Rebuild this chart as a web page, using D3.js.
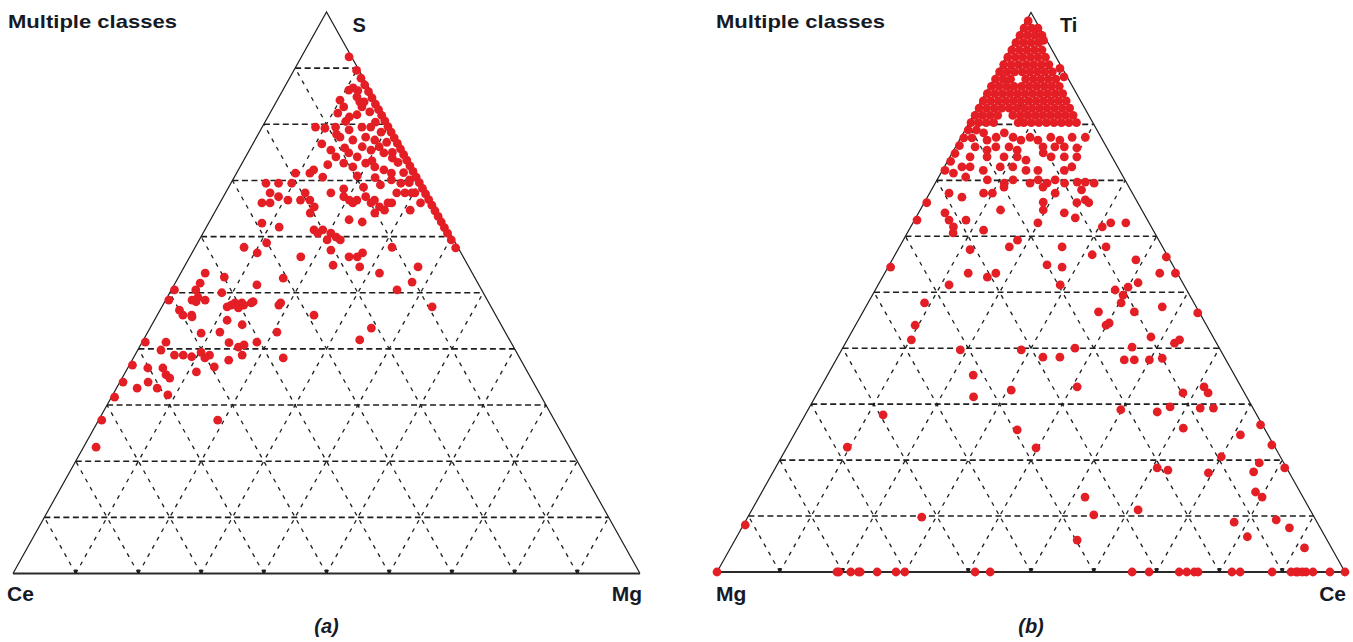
<!DOCTYPE html>
<html><head><meta charset="utf-8">
<script src="https://cdn.jsdelivr.net/npm/d3@7"></script>
<style>
html,body{margin:0;padding:0;background:#fff;}
svg{display:block;}
text{font-family:"Liberation Sans",Arial,Helvetica,sans-serif;fill:#161a26;font-weight:bold;}
</style></head><body>
<svg id="chart" width="1353" height="642"></svg>
<script>
// ---------- DATA ----------
const panelTitles = ["Multiple classes", "Multiple classes"];
const panelCaptions = ["(a)", "(b)"];
// vertex names: [bottom-left, bottom-right, top]
const verticesA = ["Ce", "Mg", "S"];
const verticesB = ["Mg", "Ce", "Ti"];
const gridTicks = [10, 20, 30, 40, 50, 60, 70, 80, 90];

// Panel (a): compositions [S, Mg, Ce] in %
const pointsA = [
  // along the S–Mg edge
  [92.0,7.6,0.4],[89.6,10.0,0.4],[88.2,11.4,0.4],[87.0,12.6,0.4],[85.8,13.8,0.4],[84.7,14.9,0.4],
  [83.6,16.0,0.4],[82.6,17.0,0.4],[81.6,18.0,0.4],[80.6,19.0,0.4],[79.6,20.0,0.4],[78.6,21.0,0.4],
  [77.6,22.0,0.4],[76.6,23.0,0.4],[75.6,24.0,0.4],[74.6,25.0,0.4],[73.6,26.0,0.4],[72.6,27.0,0.4],
  [71.6,28.0,0.4],[70.6,29.0,0.4],[69.6,30.0,0.4],[68.6,31.0,0.4],[67.6,32.0,0.4],[66.6,33.0,0.4],
  [65.6,34.0,0.4],[64.6,35.0,0.4],[63.6,36.0,0.4],[62.6,37.0,0.4],[61.6,38.0,0.4],[60.6,39.0,0.4],
  [59.4,40.2,0.4],[58.0,41.6,0.4],
  [86.0,12.0,2.0],[84.0,14.0,2.0],[82.2,15.8,2.0],[80.4,17.6,2.0],[78.6,19.4,2.0],[76.8,21.2,2.0],
  [75.0,23.0,2.0],[73.2,24.8,2.0],[71.4,26.6,2.0],[69.6,28.4,2.0],[67.8,30.2,2.0],[66.0,32.0,2.0],
  // main upper cluster
  [86.1,10.5,3.4],[86.5,11.0,2.5],[84.9,12.4,2.7],[84.0,13.3,2.7],[84.3,10.0,5.7],[83.1,11.2,5.7],
  [82.0,10.8,7.2],[81.3,13.0,5.7],[83.1,14.1,2.8],[81.7,14.0,4.3],[79.5,8.5,12.0],[79.3,10.1,10.6],
  [79.5,11.7,8.8],[79.0,14.1,6.9],[79.5,15.9,4.6],[79.5,17.3,3.2],[77.7,13.3,9.0],[77.2,15.6,7.2],
  [77.7,17.4,4.9],[77.2,19.1,3.7],[76.0,17.7,6.3],[75.4,19.4,5.2],[76.0,20.4,3.6],[74.9,21.7,3.4],
  [74.9,16.1,9.0],[74.2,17.8,8.0],[75.4,13.0,11.6],[74.2,14.4,11.4],[73.1,16.2,10.7],[72.4,18.0,9.6],
  [73.1,19.7,7.2],[72.4,21.5,6.1],[71.9,23.2,4.9],[71.3,24.7,4.0],[70.1,25.3,4.6],[69.5,27.1,3.4],
  [70.1,28.2,1.7],[67.8,27.3,4.9],[67.8,28.6,3.6],[71.9,12.0,16.1],[70.6,14.1,15.3],[71.3,11.7,17.0],
  [71.3,9.4,19.3],[69.5,9.7,20.8],[69.5,7.6,22.9],[69.5,5.6,24.9],[67.8,7.1,25.1],[67.1,8.8,24.1],
  [66.5,10.6,22.9],[67.8,12.7,19.5],[66.5,12.6,20.9],[66.5,14.1,19.4],[65.3,15.4,19.3],[64.2,15.3,20.5],
  [67.8,16.8,15.4],[67.1,19.2,13.7],[66.5,20.4,13.1],[66.0,21.2,12.8],[66.5,21.6,11.9],[67.1,22.7,10.2],
  [66.5,24.4,9.1],[65.3,25.8,8.9],[64.7,26.9,8.4],[64.2,25.6,10.2],[66.0,24.1,9.9],[66.0,26.8,7.2],
  [66.0,27.4,6.6],[64.7,31.0,4.3],[67.8,29.7,2.5],[66.0,6.7,27.3],[66.0,8.0,26.0],[62.4,8.5,29.1],
  [61.7,11.6,26.7],[61.2,17.4,21.4],[60.6,18.3,21.1],[61.2,18.8,20.0],[60.6,20.4,19.0],[59.9,21.6,18.5],
  [59.4,22.5,18.1],[59.4,20.4,20.2],[63.0,22.1,14.9],[62.6,24.4,13.0],[58.1,7.8,34.1],[57.1,10.4,32.5],
  [58.9,11.0,30.1],[56.4,17.7,25.9],[57.6,21.9,20.5],[56.4,25.4,18.2],[56.4,26.7,16.9],[57.1,27.2,15.7],
  [53.5,31.7,14.8],[58.1,31.4,10.5],[54.6,37.3,8.1],[51.9,37.7,10.4],[54.9,23.6,21.5],[54.6,28.0,17.4],
  [50.5,36.0,13.5],[47.5,43.1,9.4],[43.7,35.3,21.0],[41.6,34.5,23.9],
  [73.5,20.5,6.0],[75.8,15.0,9.2],[78.2,12.5,9.3],[80.5,12.8,6.7],[70.8,19.5,9.7],[68.8,21.5,9.7],
  [69.2,24.0,6.8],[72.8,13.8,13.4],[76.5,11.0,12.5],[74.0,23.5,2.5],[68.5,18.5,13.0],[70.5,22.5,7.0],
  // lower-left cluster
  [53.5,3.9,42.6],[52.8,7.3,39.9],[51.7,4.0,44.3],[50.5,3.9,45.6],[49.2,4.9,45.9],[48.7,4.2,47.1],
  [48.7,6.3,45.0],[50.0,8.3,41.7],[48.2,11.3,40.5],[47.5,10.4,42.1],[48.2,12.4,39.4],[48.4,14.1,37.5],
  [51.4,13.2,35.4],[52.6,16.8,30.6],[48.2,18.6,33.2],[46.0,25.0,29.0],[46.9,3.1,50.0],[46.0,4.1,49.9],
  [46.0,5.5,48.5],[48.7,0.5,50.8],[50.5,0.5,49.0],[45.7,5.7,48.6],[48.4,5.0,46.6],[47.8,10.9,41.3],
  [47.3,12.3,40.4],[47.8,12.9,39.3],[48.2,13.9,37.9],[47.8,18.5,33.7],[45.1,11.6,43.3],[44.3,14.4,41.3],
  [42.8,8.6,48.6],[43.0,11.5,45.5],[43.0,20.6,36.4],[41.2,0.5,58.3],[41.2,3.8,55.0],[39.8,3.7,56.5],
  [38.9,6.3,54.8],[38.9,7.7,53.4],[38.6,9.2,52.2],[39.4,10.3,50.3],[38.9,11.9,49.2],[38.4,11.4,50.2],
  [41.1,13.9,45.0],[40.3,15.8,43.9],[40.7,16.5,42.8],[38.9,17.1,44.0],[41.2,18.3,40.5],[38.0,15.4,46.6],
  [38.4,23.9,37.7],[37.1,0.5,62.4],[36.6,3.2,60.2],[36.6,5.6,57.8],[35.4,6.7,57.9],[34.8,7.6,57.6],
  [35.9,11.3,52.8],[36.8,13.7,49.5],[34.1,0.5,65.4],[33.0,3.3,63.7],[34.1,4.5,61.4],[33.0,6.5,60.5],
  [31.8,8.8,59.4],[31.4,0.5,68.1],[27.3,0.5,72.2],[22.5,2.0,75.5],[27.3,19.0,53.7]
];

// Panel (b): compositions [Ti, Mg, Ce] in %
const pointsB = [
  // dense Ti-rich region
  [98.5,1.2,0.3],
  [97.2,2.5,0.3],[97.2,1.3,1.5],[97.2,0.3,2.5],
  [95.9,3.8,0.3],[95.9,2.6,1.5],[95.9,1.4,2.7],[95.9,0.3,3.8],
  [94.6,5.1,0.3],[94.6,3.9,1.5],[94.6,2.7,2.7],[94.6,1.5,3.9],
  [93.3,6.4,0.3],[93.3,5.2,1.5],[93.3,4.0,2.7],[93.3,2.8,3.9],[93.3,1.6,5.1],
  [92.0,7.7,0.3],[92.0,6.5,1.5],[92.0,5.3,2.7],[92.0,4.1,3.9],[92.0,2.9,5.1],[92.0,1.7,6.3],
  [90.7,9.0,0.3],[90.7,7.8,1.5],[90.7,6.6,2.7],[90.7,5.4,3.9],[90.7,4.2,5.1],[90.7,3.0,6.3],[90.7,1.8,7.5],
  [89.4,10.3,0.3],[89.4,9.1,1.5],[89.4,7.9,2.7],[89.4,6.7,3.9],[89.4,5.5,5.1],[89.4,4.3,6.3],[89.4,3.1,7.5],[89.4,1.9,8.7],
  [88.1,11.6,0.3],[88.1,10.4,1.5],[88.1,9.2,2.7],[88.1,6.8,5.1],[88.1,5.6,6.3],[88.1,4.4,7.5],[88.1,3.2,8.7],[88.1,2.0,9.9],
  [86.8,12.9,0.3],[86.8,11.7,1.5],[86.8,10.5,2.7],[86.8,9.3,3.9],[86.8,8.1,5.1],[86.8,6.9,6.3],[86.8,5.7,7.5],[86.8,4.5,8.7],[86.8,3.3,9.9],[86.8,2.1,11.1],
  [85.5,14.2,0.3],[85.5,13.0,1.5],[85.5,11.8,2.7],[85.5,10.6,3.9],[85.5,9.4,5.1],[85.5,8.2,6.3],[85.5,7.0,7.5],[85.5,5.8,8.7],[85.5,4.6,9.9],[85.5,3.4,11.1],[85.5,2.2,12.3],
  [84.2,15.5,0.3],[84.2,14.3,1.5],[84.2,13.1,2.7],[84.2,11.9,3.9],[84.2,10.7,5.1],[84.2,9.5,6.3],[84.2,8.3,7.5],[84.2,7.1,8.7],[84.2,5.9,9.9],[84.2,4.7,11.1],[84.2,3.5,12.3],[84.2,2.3,13.5],
  [82.9,16.8,0.3],[82.9,15.6,1.5],[82.9,14.4,2.7],[82.9,13.2,3.9],[82.9,12.0,5.1],[82.9,10.8,6.3],[82.9,9.6,7.5],[82.9,8.4,8.7],[82.9,7.2,9.9],[82.9,6.0,11.1],[82.9,4.8,12.3],[82.9,3.6,13.5],[82.9,2.4,14.7],
  [81.6,18.1,0.3],[81.6,16.9,1.5],[81.6,15.7,2.7],[81.6,14.5,3.9],[81.6,12.1,6.3],[81.6,10.9,7.5],[81.6,9.7,8.7],[81.6,8.5,9.9],[81.6,7.3,11.1],[81.6,6.1,12.3],[81.6,4.9,13.5],[81.6,3.7,14.7],[81.6,2.5,15.9],
  [80.3,19.4,0.3],[80.3,18.2,1.5],[80.3,17.0,2.7],[80.3,15.8,3.9],[80.3,11.9,7.8],[80.3,11.0,8.7],[80.3,9.8,9.9],[80.3,8.6,11.1],[80.3,7.4,12.3],[80.3,6.2,13.5],[80.3,5.0,14.7],[80.3,3.8,15.9],[80.3,2.6,17.1],
  [79.0,20.5,0.5],[79.0,19.2,1.8],[77.6,21.9,0.5],[77.6,20.6,1.8],[76.2,23.3,0.5],[74.8,24.7,0.5],[73.4,26.1,0.5],
  // Ti–Ce edge
  [95.0,0.5,4.5],[90.0,0.4,9.6],[88.5,0.5,11.0],
  // scattered
  [78.5,18.3,3.2],[77.2,18.4,4.4],[77.7,16.7,5.6],[78.5,15.0,6.5],[77.7,14.0,8.3],[77.2,13.0,9.8],
  [77.7,11.3,11.0],[77.2,10.3,12.5],[77.7,8.0,14.3],[77.2,6.8,16.0],[77.7,4.6,17.7],[77.7,2.5,19.8],
  [76.0,20.9,3.1],[75.4,19.3,5.3],[76.0,17.6,6.4],[76.0,15.5,8.5],[75.4,14.5,10.1],[76.0,10.1,13.9],
  [76.0,8.2,15.8],[76.0,6.7,17.3],[75.8,4.8,19.4],[74.2,22.6,3.2],[74.2,19.9,5.9],[74.2,17.2,8.6],
  [74.2,15.1,10.7],[73.6,14.0,12.4],[74.9,10.6,14.5],[74.2,9.7,16.1],[74.2,7.6,18.2],[74.2,5.6,20.2],
  [72.4,24.8,2.8],[72.4,23.5,4.1],[71.8,21.7,6.5],[72.4,18.7,8.9],[72.4,16.7,10.9],[71.8,14.9,13.3],
  [71.8,13.0,15.2],[71.8,8.8,19.4],[72.4,7.3,20.3],[71.3,26.7,2.0],[70.6,25.1,4.3],[70.1,21.9,8.0],
  [69.5,19.5,11.0],[70.1,17.8,12.1],[69.5,15.4,15.1],[70.1,13.8,16.1],[69.5,12.7,17.8],[70.1,11.1,18.8],
  [69.5,9.9,20.6],[69.7,7.8,22.5],[69.7,6.5,23.8],[69.5,5.2,25.3],[71.8,27.8,0.4],[67.7,29.2,3.1],
  [67.0,27.5,5.5],[67.7,23.7,8.6],[67.7,22.3,10.0],[68.8,19.9,11.3],[68.8,13.7,17.5],[67.7,12.3,20.0],
  [68.3,7.8,23.9],[66.5,8.1,25.4],[66.0,7.8,26.2],[66.0,33.6,0.4],[64.2,31.6,4.2],[62.9,31.6,5.5],
  [61.7,31.5,6.8],[62.9,28.9,8.2],[61.1,27.0,11.9],[64.7,22.5,12.8],[66.1,15.0,18.9],[64.7,15.7,19.6],
  [62.4,17.7,19.9],[64.2,12.6,23.2],[63.3,11.3,25.4],[66.0,9.7,24.3],[61.7,7.8,30.5],[62.4,6.1,31.5],
  [62.4,3.7,33.9],[62.9,36.7,0.4],[60.6,32.1,7.3],[59.3,22.5,18.2],[58.1,24.4,17.5],[57.6,30.9,11.5],
  [58.1,16.0,25.9],[54.9,20.0,25.1],[54.5,17.8,27.7],[56.7,11.9,31.4],[58.1,9.0,32.9],[55.8,5.4,38.8],
  [56.3,0.3,43.4],[53.4,2.8,43.8],[53.4,0.3,46.3],[54.5,45.1,0.4],[53.4,33.3,13.3],[52.7,30.6,16.7],
  [53.4,28.9,17.7],[51.3,37.4,11.3],[51.3,19.7,29.0],[50.4,11.4,38.2],[50.9,9.1,40.0],[49.5,10.6,39.9],
  [51.7,7.1,41.2],[48.1,42.9,9.0],[44.1,46.4,9.5],[46.5,16.0,37.5],[48.1,11.6,40.3],[46.5,10.3,43.2],
  [46.3,0.3,53.4],[44.5,15.3,40.2],
  [41.5,48.3,10.2],[39.7,41.4,18.9],[35.2,41.6,23.2],[31.3,43.5,25.2],[32.5,36.9,30.6],[39.7,31.7,28.6],
  [38.4,28.9,32.7],[38.4,26.2,35.4],[40.0,23.0,37.0],[33.1,26.1,40.8],[44.1,16.0,39.9],[40.2,13.8,46.0],
  [37.9,16.2,45.9],[37.9,14.6,47.5],[37.9,12.2,49.9],[42.0,9.9,48.1],[47.4,5.4,47.2],[38.2,10.0,51.8],
  [40.9,6.7,52.4],[41.5,5.6,52.9],[33.1,5.9,61.0],[32.0,5.8,62.2],[32.0,9.8,58.2],[29.3,8.4,62.3],
  [29.3,6.3,64.4],[29.5,13.1,57.4],[28.6,15.6,55.8],[29.0,21.2,49.8],[25.7,12.9,61.4],[28.1,59.5,12.4],
  [25.4,39.5,35.1],[22.2,38.1,39.7],[22.3,68.1,9.6],[24.5,4.4,71.1],[26.3,0.3,73.4],[22.7,0.3,77.0],
  [20.6,9.4,70.0],[18.6,20.6,60.8],[18.2,19.1,62.7],[17.7,12.9,69.4],[19.5,3.9,76.6],[17.9,5.6,76.5],
  [18.6,0.3,81.1],[14.3,7.1,78.6],[13.4,6.5,80.1],[13.4,34.7,51.9],[10.2,34.9,54.9],[11.1,27.4,61.5],
  [9.8,62.5,27.7],[8.9,13.2,77.9],[9.3,6.3,84.4],[7.9,4.9,87.2],[6.3,12.4,81.3],[4.3,4.3,91.4],
  [5.7,39.8,54.5],[8.4,91.3,0.3],
  // on the Mg–Ce base
  [0,100,0],[0,80.9,19.1],[0,80.6,19.4],[0,78.7,21.3],[0,77.5,22.5],[0,77.2,22.8],[0,74.5,25.5],
  [0,71.5,28.5],[0,70.1,29.9],[0,58.9,41.1],[0,56.5,43.5],[0,33.9,66.1],[0,31.2,68.8],[0,26.4,73.6],
  [0,25.2,74.8],[0,24.0,76.0],[0,23.4,76.6],[0,18.0,82.0],[0,16.7,83.3],[0,11.6,88.4],[0,8.6,91.4],
  [0,7.8,92.2],[0,7.5,92.5],[0,6.8,93.2],[0,6.2,93.8],[0,5.1,94.9],[0,2.4,97.6],[0,0,100]
];

// ---------- DRAWING ----------
const svg = d3.select("#chart");
const RED = "#e41e25";
const INK = "#1e1e1e";

function drawPanel(cfg) {
  const g = svg.append("g");
  const xs = d3.scaleLinear().domain([0, 100]).range([cfg.x0, cfg.x1]);
  const ys = d3.scaleLinear().domain([0, 100]).range([cfg.yBase, cfg.yApex]);
  // top = top-vertex %, right = bottom-right-vertex %
  const proj = (top, right) => [xs(right + top / 2), ys(top)];
  const line = d3.line();
  const ti = cfg.topIndex, ri = cfg.rightIndex;

  const grid = g.append("g").attr("fill", "none").attr("stroke", INK);
  grid.selectAll("path.h").data(gridTicks).join("path")
    .attr("class", "h")
    .attr("d", k => line([proj(k, 0), proj(k, 100 - k)]))
    .attr("stroke-width", 1.6).attr("stroke-dasharray", "6,3.5");
  grid.selectAll("path.r").data(gridTicks).join("path")
    .attr("class", "r")
    .attr("d", k => line([proj(0, k), proj(100 - k, k)]))
    .attr("stroke-width", 1.3).attr("stroke-dasharray", "4,5.5");
  grid.selectAll("path.l").data(gridTicks).join("path")
    .attr("class", "l")
    .attr("d", k => line([proj(0, 100 - k), proj(100 - k, 0)]))
    .attr("stroke-width", 1.3).attr("stroke-dasharray", "4,5.5");

  g.append("path")
    .attr("d", line([proj(0, 0), proj(100, 0), proj(0, 100)]))
    .attr("fill", "none").attr("stroke", INK).attr("stroke-width", 1.2);
  g.append("path")
    .attr("d", line([proj(0, 0), proj(0, 100)]))
    .attr("fill", "none").attr("stroke", "#2a2a2a").attr("stroke-width", 2.2);
  g.selectAll("rect.tick").data(gridTicks).join("rect")
    .attr("class", "tick")
    .attr("x", k => proj(0, k)[0] - 1.5).attr("y", ys(0) - 4)
    .attr("width", 3).attr("height", 4).attr("fill", INK);

  g.append("g").selectAll("circle").data(cfg.points).join("circle")
    .attr("cx", d => proj(d[ti], d[ri])[0])
    .attr("cy", d => proj(d[ti], d[ri])[1])
    .attr("r", 4.4).attr("fill", RED);

  const apex = proj(100, 0), bl = proj(0, 0), br = proj(0, 100);
  g.append("text").attr("x", apex[0] + cfg.topDx).attr("y", 32)
    .attr("font-size", 20).text(cfg.vertices[2]);
  g.append("text").attr("x", bl[0] + cfg.blDx).attr("y", 601)
    .attr("font-size", 21).text(cfg.vertices[0]);
  g.append("text").attr("x", br[0] + cfg.brDx).attr("y", 601)
    .attr("font-size", 21).attr("text-anchor", "end").text(cfg.vertices[1]);
  g.append("text").attr("x", cfg.titleX).attr("y", 28)
    .attr("font-size", 19).attr("textLength", 169).attr("lengthAdjust", "spacingAndGlyphs")
    .text(cfg.title);
  g.append("text").attr("x", (bl[0] + br[0]) / 2).attr("y", 633)
    .attr("font-size", 20).attr("font-style", "italic").attr("text-anchor", "middle")
    .text(cfg.caption);
}

// panel (a): data [S, Mg, Ce] -> top S (0), right Mg (1)
drawPanel({x0: 13, x1: 640, yBase: 573.5, yApex: 12, points: pointsA, vertices: verticesA,
  topIndex: 0, rightIndex: 1,
  title: panelTitles[0], caption: panelCaptions[0], titleX: 8, topDx: 26, blDx: -6, brDx: 2});
// panel (b): data [Ti, Mg, Ce] -> top Ti (0), right Ce (2)
drawPanel({x0: 717, x1: 1345, yBase: 572, yApex: 12.5, points: pointsB, vertices: verticesB,
  topIndex: 0, rightIndex: 2,
  title: panelTitles[1], caption: panelCaptions[1], titleX: 716, topDx: 29, blDx: -1, brDx: 1});
</script>
</body></html>
